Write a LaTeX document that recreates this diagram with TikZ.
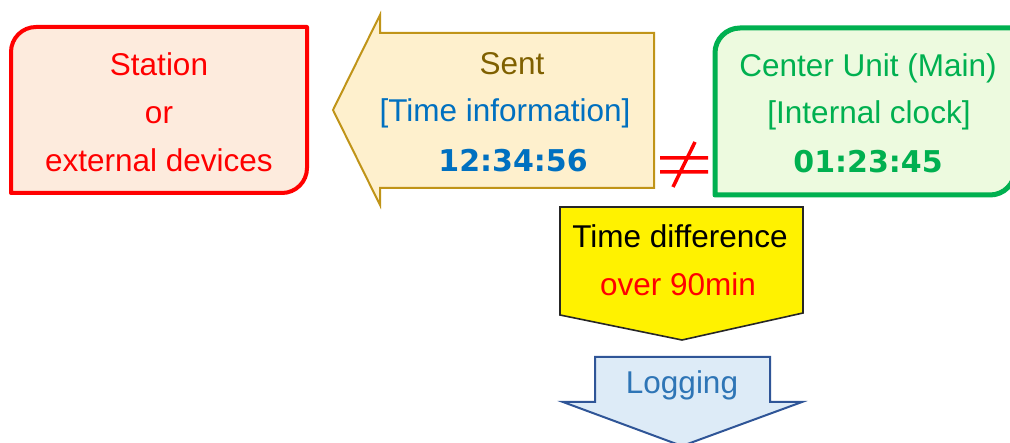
\documentclass[tikz,border=0pt]{standalone}
\usepackage{fontspec}
\setmainfont{Liberation Sans}
\newfontfamily\numfont{DejaVu Sans}
\definecolor{stationfill}{HTML}{FDEBDD}
\definecolor{sentfill}{HTML}{FEF0CD}
\definecolor{sentstroke}{HTML}{C09418}
\definecolor{sentbrown}{HTML}{7F6000}
\definecolor{tblue}{HTML}{0070C0}
\definecolor{cgreen}{HTML}{00B050}
\definecolor{cfill}{HTML}{EDFADF}
\definecolor{logfill}{HTML}{DDEBF7}
\definecolor{logstroke}{HTML}{2F5597}
\definecolor{logtext}{HTML}{2E75B6}
\begin{document}
\begin{tikzpicture}[x=1pt,y=-1pt,
  txt/.style={anchor=base,inner sep=0pt,font=\fontsize{31.5}{36}\selectfont},
  num/.style={anchor=base,inner sep=0pt,font=\numfont\bfseries\fontsize{30}{36}\selectfont},
  stationbox/.style={line width=4pt,draw=red,fill=stationfill,line join=round},
  centerbox/.style={line width=5pt,draw=cgreen,fill=cfill,line join=round},
  sentarrow/.style={line width=2pt,draw=sentstroke,fill=sentfill,line join=miter},
  diffarrow/.style={line width=1.6pt,draw=black!85,fill=yellow,line join=miter},
  logarrow/.style={line width=2pt,draw=logstroke,fill=logfill,line join=miter},
  neqsign/.style={line width=3.5pt,draw=red}]
\useasboundingbox (0,0) rectangle (1010,443);
\clip (0,0) rectangle (1010,443);
% Station box
\draw[stationbox] (36,27) -- (307,27) -- (307,168) arc[start angle=0,end angle=90,radius=25]
  -- (11,193) -- (11,52) arc[start angle=180,end angle=270,radius=25] -- cycle;
% Center unit box
\draw[centerbox] (740,28) -- (1015,28) -- (1015,170) arc[start angle=0,end angle=90,radius=25]
  -- (715,195) -- (715,53) arc[start angle=180,end angle=270,radius=25] -- cycle;
% Sent arrow
\draw[sentarrow] (333,110) -- (380,15) -- (380,33) -- (654,33) -- (654,188) -- (380,188) -- (380,205) -- cycle;
% not equal sign
\draw[neqsign] (660,158) -- (708,158) (660,172) -- (708,172) (695,142) -- (673,187);
% Time difference arrow
\draw[diffarrow] (560,207) -- (803,207) -- (803,313) -- (682,340) -- (560,315) -- cycle;
% Logging arrow
\draw[logarrow] (595,357) -- (770,357) -- (770,402) -- (802,402) -- (682,446) -- (563,402) -- (595,402) -- cycle;
% Texts
\node[txt,text=red] (st1) at (159,76) {Station};
\node[txt,text=red] (st2) at (159,124) {or};
\node[txt,text=red] (st3) at (159,172) {external devices};
\node[txt,text=sentbrown] (se1) at (512,75) {Sent};
\node[txt,text=tblue] (se2) at (505,122) {[Time information]};
\node[num,text=tblue] (se3) at (513,172) {12:34:56};
\node[txt,text=cgreen] (cu1) at (868,77) {Center Unit (Main)};
\node[txt,text=cgreen] (cu2) at (869,124) {[Internal clock]};
\node[num,text=cgreen] (cu3) at (868,173) {01:23:45};
\node[txt] (td1) at (680,248) {Time difference};
\node[txt,text=red] (td2) at (678,296) {over 90min};
\node[txt,text=logtext] (lg) at (682,394) {Logging};
\end{tikzpicture}
\end{document}
